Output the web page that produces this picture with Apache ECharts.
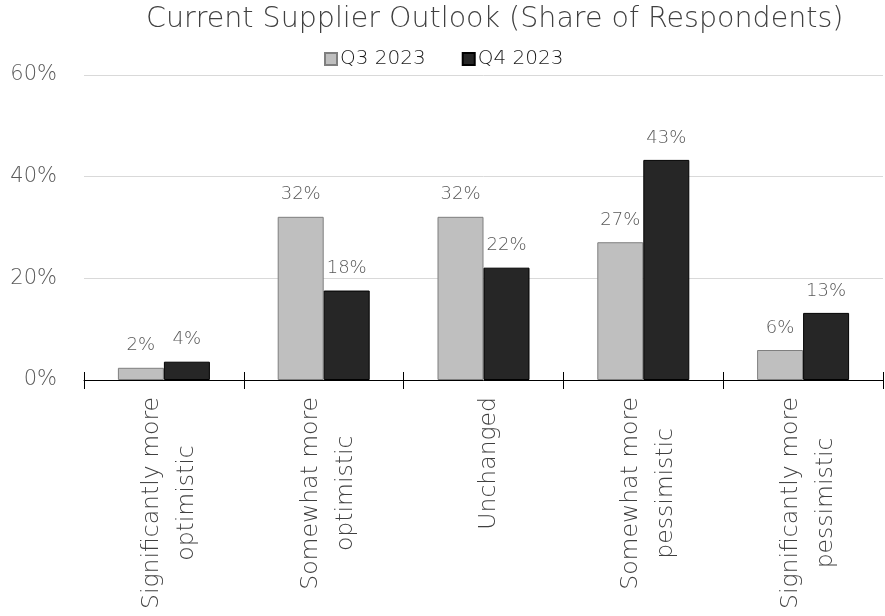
<!DOCTYPE html>
<html>
<head>
<meta charset="utf-8">
<script src="https://cdn.jsdelivr.net/npm/echarts@6/dist/echarts.min.js"></script>
<style>
  html, body { margin: 0; padding: 0; background: #fff; }
  #chart { width: 885px; height: 616px; }
</style>
</head>
<body>
<div id="chart"></div>
<script>
// Survey categories (line breaks mark the two-line axis labels)
const categories = [
  'Significantly more\noptimistic',
  'Somewhat more\noptimistic',
  'Unchanged',
  'Somewhat more\npessimistic',
  'Significantly more\npessimistic'
];
const seriesNames = ['Q3 2023', 'Q4 2023'];
// Share of respondents, percent
const q3Values = [2.4, 32.1, 32.1, 27.1, 5.9];
const q4Values = [3.6, 17.6, 22.1, 43.3, 13.2];
const yTicks = [0, 20, 40, 60];

const FONT = '"DejaVu Sans", Verdana, sans-serif';
const WEIGHT = 200;

const chart = echarts.init(document.getElementById('chart'), null, { renderer: 'canvas' });

const labelStyle = {
  show: true,
  position: 'top',
  distance: 13,
  color: '#595959',
  fontFamily: FONT,
  fontWeight: WEIGHT,
  fontSize: 18,
  formatter: p => Math.round(p.value) + '%'
};

const catFont = { fontFamily: FONT, fontWeight: WEIGHT, fontSize: 23.5, color: '#404040', lineHeight: 35 };

chart.setOption({
  animation: false,
  backgroundColor: '#ffffff',
  title: {
    text: 'Current Supplier Outlook (Share of Respondents)',
    left: 141,
    top: 0,
    textStyle: { color: '#404040', fontFamily: FONT, fontSize: 28.5, fontWeight: WEIGHT }
  },
  legend: {
    top: 44,
    left: 319,
    itemWidth: 12,
    itemHeight: 12,
    itemGap: 36,
    icon: 'rect',
    textStyle: { color: '#1a1a1a', fontFamily: FONT, fontWeight: WEIGHT, fontSize: 20, padding: [0, 0, 0, -2] },
    data: seriesNames
  },
  grid: { left: 84, right: 2, top: 75, bottom: 236, containLabel: false },
  xAxis: [
    {
      type: 'category',
      data: categories,
      axisLine: { show: true, lineStyle: { color: '#000', width: 1 } },
      axisTick: { show: true, length: 9, lineStyle: { color: '#000' } },
      axisLabel: Object.assign({
        rotate: 90,
        margin: 17,
        interval: 0,
        padding: [10, 0, 0, 0],
        formatter: v => v.split('\n').map(s => '{c|' + s + '}').join('\n'),
        rich: { c: Object.assign({ align: 'center' }, catFont) }
      }, catFont),
      splitLine: { show: false }
    },
    {
      type: 'category',
      data: categories,
      position: 'bottom',
      axisLine: { show: false },
      axisTick: { show: true, inside: true, length: 8, lineStyle: { color: '#000' } },
      axisLabel: { show: false },
      splitLine: { show: false }
    }
  ],
  yAxis: {
    type: 'value',
    min: yTicks[0],
    max: yTicks[yTicks.length - 1],
    interval: yTicks[1] - yTicks[0],
    axisLine: { show: false },
    axisTick: { show: false },
    axisLabel: {
      margin: 27,
      color: '#595959',
      fontFamily: FONT,
      fontWeight: WEIGHT,
      fontSize: 21,
      formatter: v => v + '%'
    },
    splitLine: { show: true, lineStyle: { color: '#d9d9d9', width: 1 } }
  },
  series: [
    {
      name: seriesNames[0],
      type: 'bar',
      xAxisIndex: 0,
      data: q3Values,
      barWidth: 46,
      barGap: '0%',
      itemStyle: { color: '#bfbfbf', borderColor: '#7f7f7f', borderWidth: 1 },
      label: labelStyle
    },
    {
      name: seriesNames[1],
      type: 'bar',
      xAxisIndex: 0,
      data: q4Values,
      barWidth: 46,
      barGap: '0%',
      itemStyle: { color: '#262626', borderColor: '#000000', borderWidth: 1 },
      label: labelStyle
    }
  ]
});
</script>
</body>
</html>
